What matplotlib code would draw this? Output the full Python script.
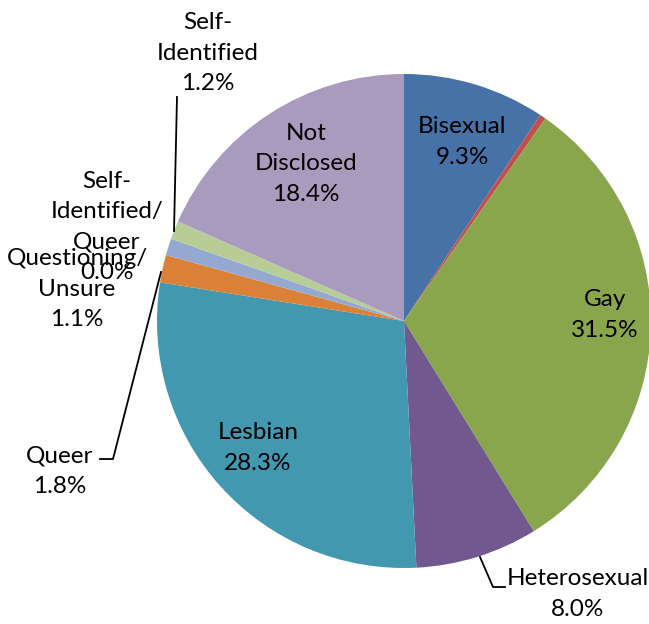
import numpy as np
import matplotlib
matplotlib.use("Agg")
from matplotlib import pyplot as plt

# slices, clockwise from 12 o'clock
categories = ["Bisexual", "", "Gay", "Heterosexual", "Lesbian", "Queer",
              "Questioning/\nUnsure", "Self-\nIdentified/\nQueer", "Self-\nIdentified",
              "Not\nDisclosed"]
shares = [9.3, 0.4, 31.5, 8.0, 28.3, 1.8, 1.1, 0.0, 1.2, 18.4]
colors = ['#4672A8', '#C0504D', '#8AA64D', '#71588F', '#4298AF', '#DA8137',
          '#95A9D0', '#D99694', '#B7CD95', '#A99BBD']

W, H = 649, 624
CX, CY, R = 404, 321, 247

def d(px, py):
    # pixel -> pie data coords
    return (px - CX) / R, (CY - py) / R

plt.rcParams['font.family'] = ['Lato', 'DejaVu Sans']

fig = plt.figure(figsize=(W / 100, H / 100), dpi=100)
ax = fig.add_axes([(CX - R) / W, (H - CY - R) / H, 2 * R / W, 2 * R / H])
ax.pie(shares, colors=colors, startangle=90, counterclock=False, radius=1,
       wedgeprops=dict(linewidth=0))
ax.set_xlim(-1, 1)
ax.set_ylim(-1, 1)
ax.axis('off')

# label centres in pixels (layout only)
label_pos = {
    0: (462, 142),
    2: (605, 315),
    3: (578, 594),
    4: (258, 448),
    5: (60, 471),
    6: (77, 289),
    7: (107, 227),
    8: (208, 53),
    9: (306, 164),
}
fs = 17.5
for i, (px, py) in label_pos.items():
    txt = f"{categories[i]}\n{shares[i]:.1f}%"
    x, y = d(px, py)
    ax.text(x, y, txt, ha='center', va='center', fontsize=fs, linespacing=1.55,
            clip_on=False)

# leader lines
leaders = [
    [(174, 231), (177, 97)],
    [(161, 272), (113, 459), (100, 459)],
    [(480, 557), (493, 587), (505, 587)],
]
for pts in leaders:
    xs, ys = zip(*[d(*p) for p in pts])
    ax.plot(xs, ys, color='black', lw=1.3, clip_on=False)

fig.savefig("out.png", dpi=100)
